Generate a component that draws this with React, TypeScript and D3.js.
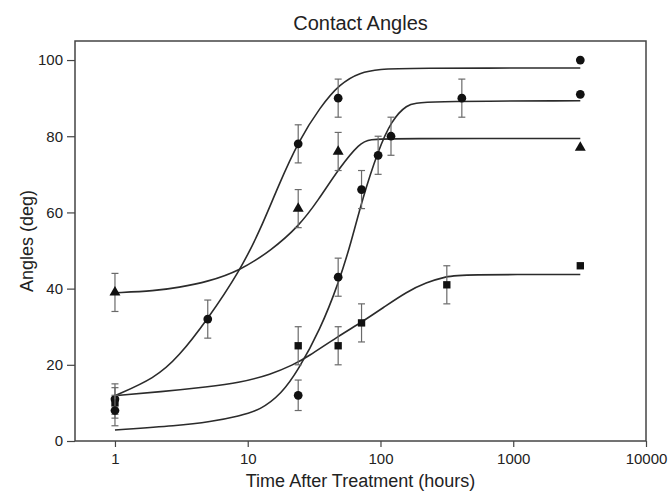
import React, { useEffect, useRef } from "react";
import * as d3 from "d3";

// measured points (hours, degrees, +/- error)
const timesA = [1, 5, 24, 48, 3200];
const valuesA = [11, 32, 78, 90, 100];
const errA = [4, 5, 5, 5, 0];

const timesB = [1, 24, 48, 3200];
const valuesB = [39, 61, 76, 77];
const errB = [5, 5, 5, 0];

const timesC = [1, 24, 48, 72, 316, 3200];
const valuesC = [10, 25, 25, 31, 41, 46];
const errC = [4, 5, 5, 5, 5, 0];

const timesD = [1, 24, 48, 72, 96, 120, 410, 3200];
const valuesD = [8, 12, 43, 66, 75, 80, 90, 91];
const errD = [4, 4, 5, 5, 5, 5, 5, 0];

// fitted curves
const fitTimesA = [1, 2, 3, 5, 8.7, 12.4, 17, 24.3, 35, 49.5, 70, 100, 150, 3200];
const fitValuesA = [11.9, 16.5, 22, 32, 44.6, 55.3, 67, 78.9, 87.6, 93.8, 96.8, 97.6, 97.9, 97.9];

const fitTimesB = [1, 2, 3, 5, 8.7, 15, 24.3, 34, 49, 70, 83, 120, 3200];
const fitValuesB = [38.9, 39.4, 40.3, 41.8, 44.7, 50, 56.4, 63.2, 71.7, 78.3, 79.2, 79.4, 79.4];

const fitTimesC = [1, 2.2, 5, 8.7, 15, 22, 28, 48, 73, 110, 157, 220, 315, 400, 3200];
const fitValuesC = [11.9, 12.9, 14.2, 15.3, 17.5, 20, 22, 27.5, 31.3, 35.5, 39.1, 41.6, 43.2, 43.7, 43.7];

const fitTimesD = [1, 3, 5.2, 8.7, 12.4, 18, 24, 35, 48.4, 60, 73, 96, 121, 157, 200, 3200];
const fitValuesD = [2.9, 4, 5, 6.6, 8.1, 12.4, 18.6, 29.1, 41.5, 52, 63.5, 76.3, 84.1, 88.3, 89.2, 89.3];

const xTicks = [1, 10, 100, 1000, 10000];
const yTicks = [0, 20, 40, 60, 80, 100];

const FONT = "'Liberation Sans', Arial, sans-serif";

const series = [
  { t: timesA, v: valuesA, e: errA, shape: d3.symbolCircle, size: 60 },
  { t: timesB, v: valuesB, e: errB, shape: d3.symbolTriangle, size: 52 },
  { t: timesC, v: valuesC, e: errC, shape: d3.symbolSquare, size: 54 },
  { t: timesD, v: valuesD, e: errD, shape: d3.symbolCircle, size: 60 },
];

const fits = [
  { t: fitTimesA, v: fitValuesA },
  { t: fitTimesB, v: fitValuesB },
  { t: fitTimesC, v: fitValuesC },
  { t: fitTimesD, v: fitValuesD },
];

const App = () => {
  const width = 670;
  const height = 496;
  const MARGIN = { top: 41, right: 24, bottom: 55, left: 75 };

  const xAxisRef = useRef(null);
  const yAxisRef = useRef(null);

  const xScale = d3
    .scaleLog()
    .domain([0.5, 10000])
    .range([MARGIN.left, width - MARGIN.right]);
  const yScale = d3
    .scaleLinear()
    .domain([0, 105])
    .range([height - MARGIN.bottom, MARGIN.top]);

  useEffect(() => {
    const xg = d3.select(xAxisRef.current);
    xg.selectAll("*").remove();
    xg.call(
      d3
        .axisBottom(xScale)
        .tickValues(xTicks)
        .tickFormat(d3.format("d"))
        .tickSize(6)
        .tickPadding(6)
    );
    xg.select(".domain").remove();
    xg.selectAll("line").attr("stroke", "#444").attr("stroke-width", 1.2);
    xg.selectAll("text")
      .attr("font-size", 15)
      .attr("font-family", FONT)
      .attr("fill", "#222");

    const yg = d3.select(yAxisRef.current);
    yg.selectAll("*").remove();
    yg.call(d3.axisLeft(yScale).tickValues(yTicks).tickSize(8).tickPadding(4));
    yg.select(".domain").remove();
    yg.selectAll("line").attr("stroke", "#444").attr("stroke-width", 1.2);
    yg.selectAll("text")
      .attr("font-size", 15)
      .attr("font-family", FONT)
      .attr("fill", "#222");
  }, [xScale, yScale]);

  // smooth fitted curves
  const lineBuilder = d3
    .line<number>()
    .x((d) => d[0])
    .y((d) => d[1])
    .curve(d3.curveBasis);

  const fitPaths = fits.map((f, i) => {
    const pts = f.t.map((t, j) => [xScale(t), yScale(f.v[j])]);
    return (
      <path
        key={i}
        d={lineBuilder(pts as any) || ""}
        fill="none"
        stroke="#2b2b2b"
        strokeWidth={1.6}
      />
    );
  });

  const marks = series.map((s, i) => {
    const sym = d3.symbol().type(s.shape).size(s.size);
    return (
      <g key={i}>
        {s.t.map((t, j) => {
          const cx = xScale(t);
          const cy = yScale(s.v[j]);
          const e = s.e[j];
          return (
            <g key={j}>
              {e > 0 && (
                <g stroke="#6a6a6a" strokeWidth={1.2}>
                  <line x1={cx} x2={cx} y1={yScale(s.v[j] + e)} y2={yScale(s.v[j] - e)} />
                  <line x1={cx - 3.5} x2={cx + 3.5} y1={yScale(s.v[j] + e)} y2={yScale(s.v[j] + e)} />
                  <line x1={cx - 3.5} x2={cx + 3.5} y1={yScale(s.v[j] - e)} y2={yScale(s.v[j] - e)} />
                </g>
              )}
              <path d={sym() || ""} transform={`translate(${cx},${cy})`} fill="#111" />
            </g>
          );
        })}
      </g>
    );
  });

  const plotLeft = MARGIN.left;
  const plotRight = width - MARGIN.right;
  const plotTop = MARGIN.top;
  const plotBottom = height - MARGIN.bottom;

  return (
    <svg
      width={width}
      height={height}
      style={{ position: "absolute", left: 0, top: 0, background: "#fff" }}
    >
      <rect x={0} y={0} width={width} height={height} fill="#fff" />
      <text
        x={(plotLeft + plotRight) / 2}
        y={30}
        textAnchor="middle"
        fontFamily={FONT}
        fontSize={20}
        fill="#222"
      >
        Contact Angles
      </text>
      {fitPaths}
      {marks}
      <rect
        x={plotLeft}
        y={plotTop}
        width={plotRight - plotLeft}
        height={plotBottom - plotTop}
        fill="none"
        stroke="#444"
        strokeWidth={1.5}
      />
      <g ref={xAxisRef} transform={`translate(0, ${plotBottom})`} />
      <g ref={yAxisRef} transform={`translate(${plotLeft}, 0)`} />
      <text
        x={(plotLeft + plotRight) / 2}
        y={487}
        textAnchor="middle"
        fontFamily={FONT}
        fontSize={18}
        fill="#222"
      >
        Time After Treatment (hours)
      </text>
      <text
        transform={`translate(33, ${(plotTop + plotBottom) / 2}) rotate(-90)`}
        textAnchor="middle"
        fontFamily={FONT}
        fontSize={18}
        fill="#222"
      >
        Angles (deg)
      </text>
    </svg>
  );
};

export default App;
